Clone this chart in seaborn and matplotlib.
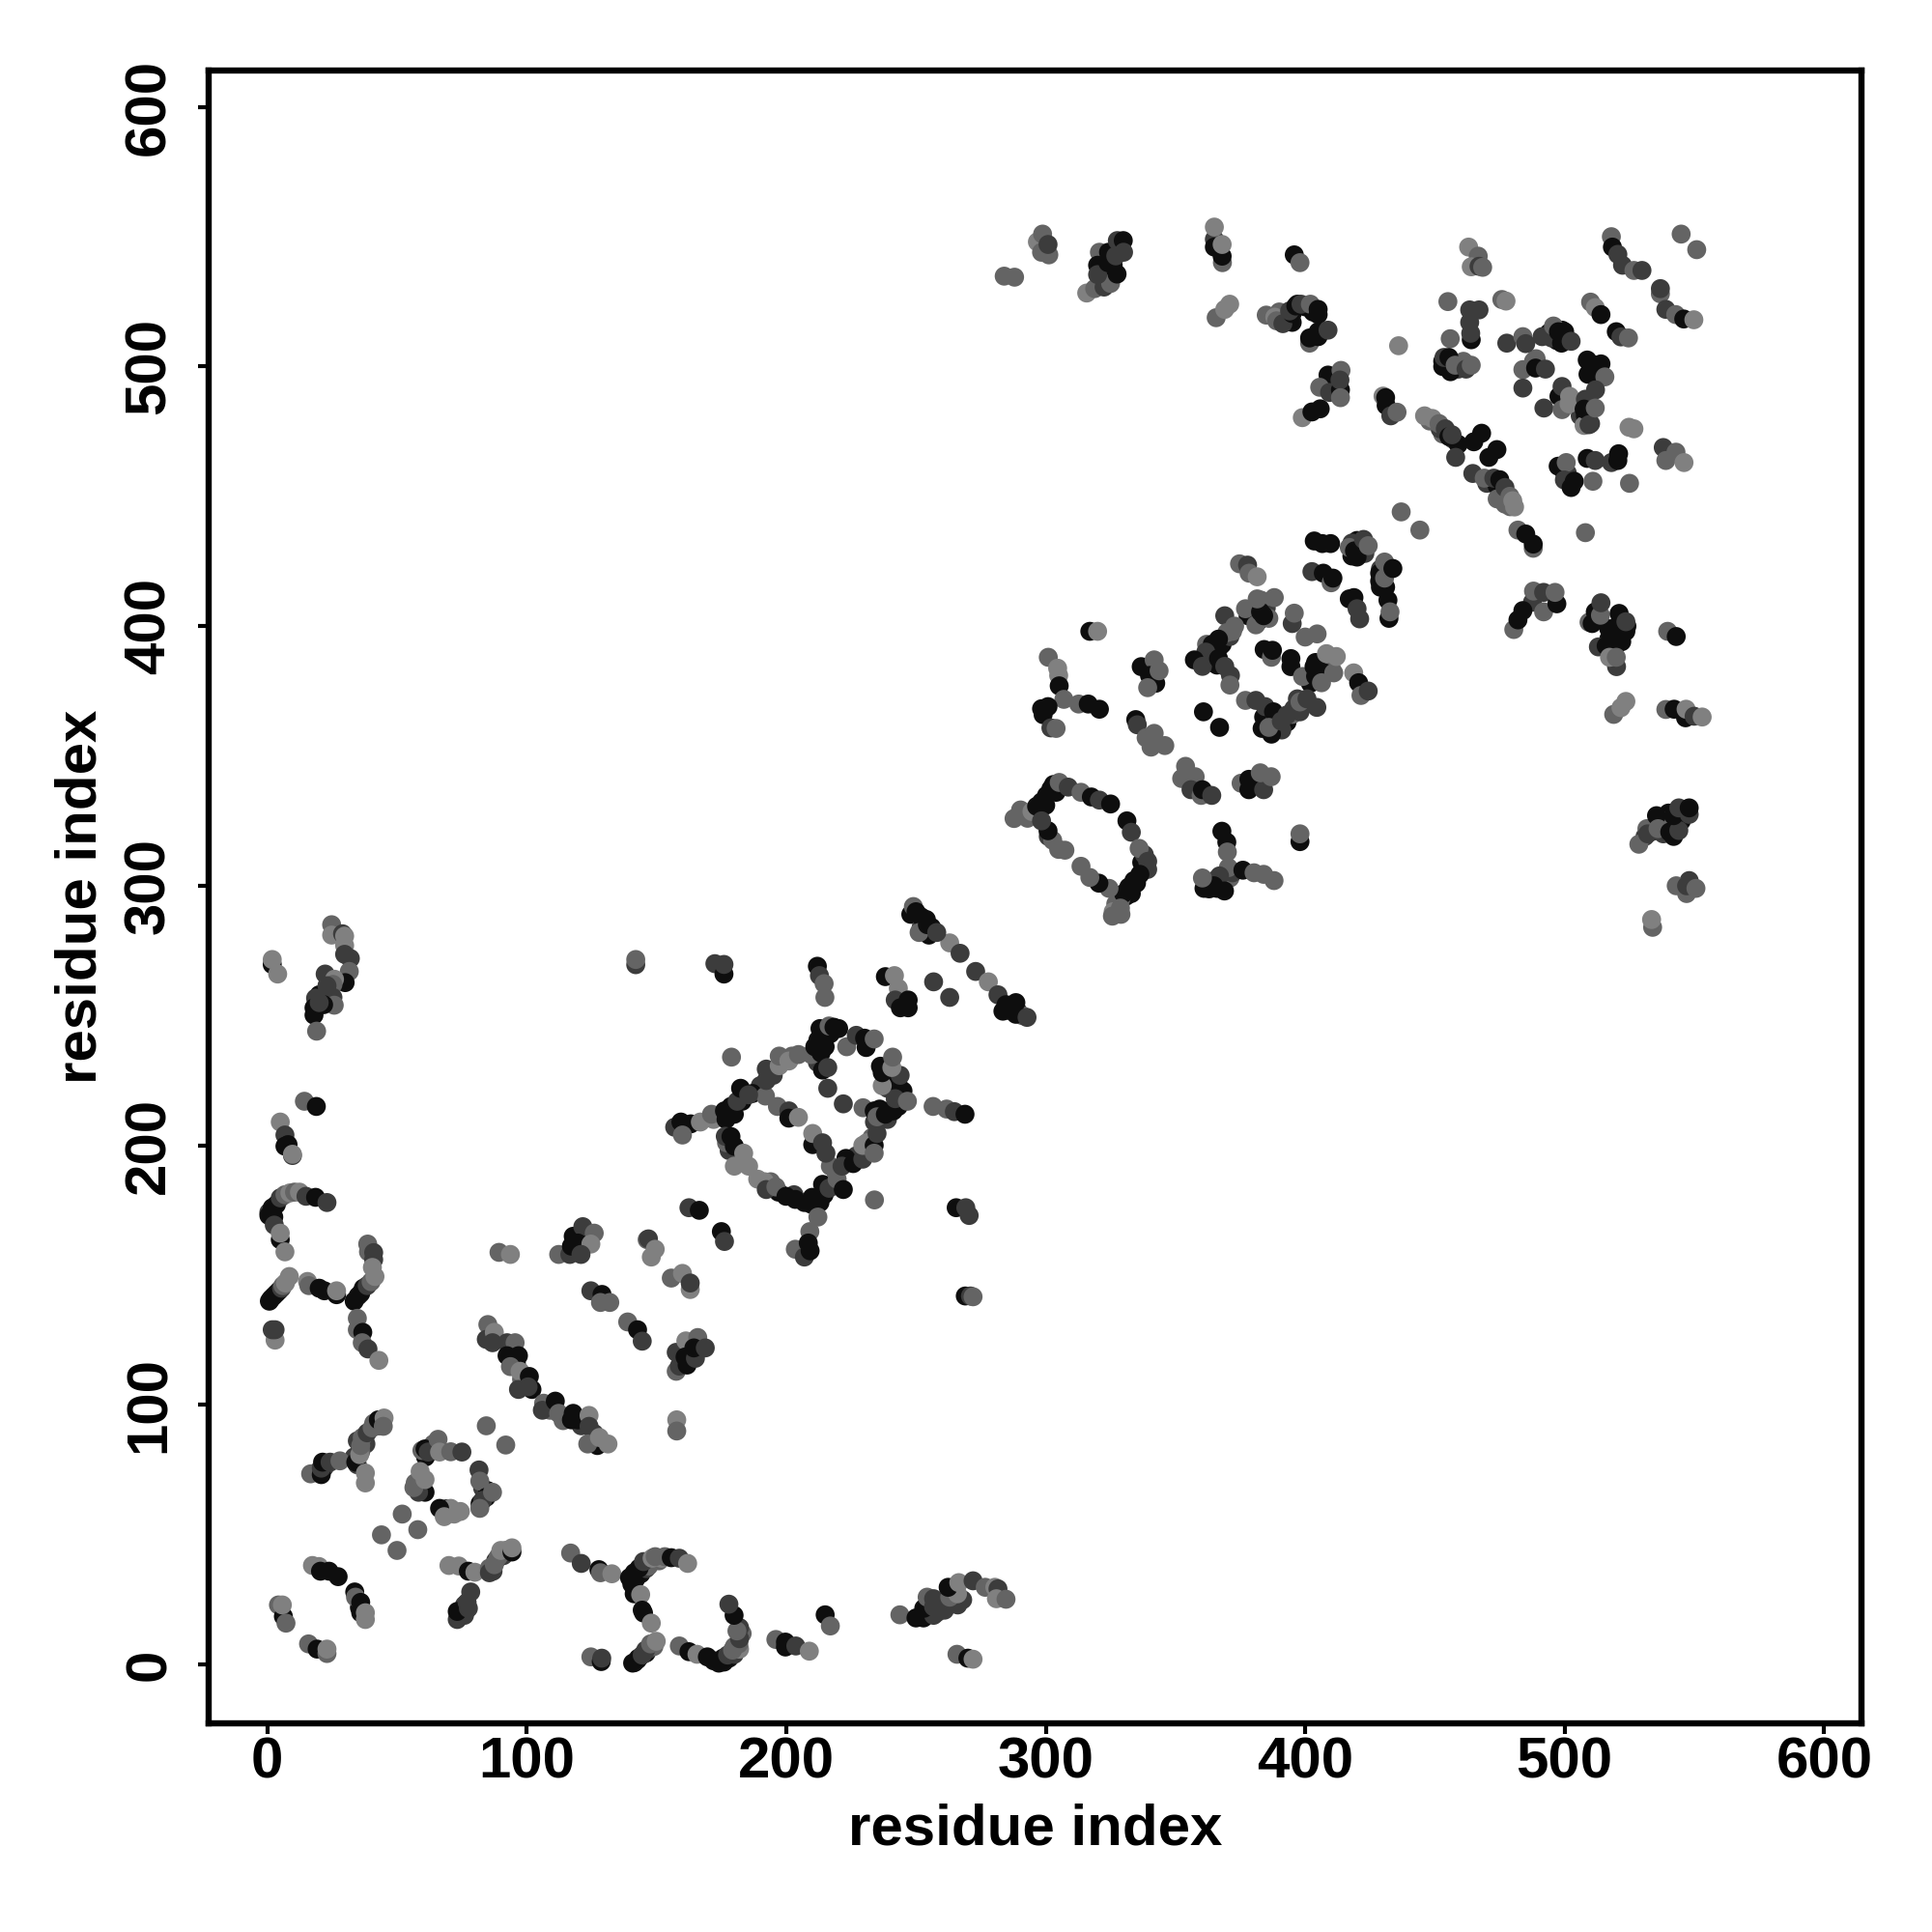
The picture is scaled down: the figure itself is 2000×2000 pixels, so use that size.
import pandas as pd
import matplotlib
matplotlib.use("Agg")
import matplotlib.pyplot as plt
import seaborn as sns

# contact pairs, one line per blob
x_left = [0.8,1.5,2.5,3.5,4.5,5.5,6,7,8.5,
    15.5,16,20,22,26.7,26.7,
    33.5,35,36,37,38.5,40,41.5,
    38.7,39,41,41,40.5,
    34.7,34.7,36.8,36.6,38.8,43,
    3,1.9,3,
    0.6,0.6,1.9,2.5,3.5,2.7,5,6.8,8.7,10.5,12.4,14.9,18.6,23,
    5,5,6.8,
    5,6.8,8,6.8,9.7,9.7,
    14.3,18.9,
    1.9,1.9,4,
    24.8,24.8,29,29.8,29.8,29.8,32,22.3,31.6,30,25.9,25.3,23,18.6,25.3,25.8,21.7,18,18,19,20,
    16.7,20.8,20.8,21.3,24.2,28,34.7,34.1,35.6,34.7,36,36.6,38.5,40.4,42.8,45,44.7,37.8,37.8,
    59.6,60.8,62,65.8,66.4,70.7,75,81.6,81.9,84.4,83,86.8,81.9,74.4,70.7,66.4,68.2,60.8,58.3,56.5,60.8,58.9,
    84.4,91.9,52,58,44,50,
    17.4,19.9,20.5,23.8,27.3,33.7,34,36,37.8,37.8,
    4.3,6.2,5.8,7.2,
    15.9,19.2,23,23,
    70,73.8,77.5,80,85.6,85.6,87.5,89,90,94.3,94.3,
    73.2,73.2,77.5,77,78.4]
y_left = [140,141,142,143,144,145,146,147,149.5,
    147.6,146,145,144,142.5,144,
    140,142,143,145,146,147.5,149.5,
    162,159,158.7,156,153,
    133.4,129,128,124,121.6,117.2,
    125,129,129,
    174.2,173,176,172.4,177.2,169.3,179.8,181,181.7,182,182,180.4,180,178,
    163.7,166.2,159,
    209,204,200.3,199.7,196.1,196.6,
    217,215,
    269.7,271.6,266,
    285,281,281.5,280.6,277,273.6,272,266,267,262.7,264,262,261.5,256.7,257,254,254.2,253,250.2,244,255,
    73.5,73.2,75.7,78,78,78.5,77,78,80.9,86.2,84.4,87.5,89.3,91.2,94.3,95,91.8,70,73.8,
    82.5,83.1,81.9,86.8,81.9,82,81.9,75,70.7,64.5,63.3,66.4,60.2,59,60.2,60.2,57,66.4,66.4,68.2,71.3,74.4,
    92,84.6,58,52,50,44,
    38.2,37.8,36,36,33.9,28,26,24,17.4,20,
    23,18.6,23,16,
    8,6,4.3,6,
    38.2,38,36,35.6,37.2,35.4,38.5,41.5,44,43.4,45,
    17.4,20.5,21.7,24,28]
tone_left = ("kkkkkdmll" "lmkkkl" "kkkkdml" "mmddl" "mmkmdl" "ldd" "dkkkkddmlmldkd" "kll" "ldkkdl" "mk" "kll"
    "mldlldddmklmdddmkkkmd" "mkdkdmdkldmmdmklmll" "mkdmlmddmkdmmllklkdmll" "mmmmmm" "llkkkkmkll"
    "mklm" "mkml" "llklmdmmlkl" "dkddd")

x_bottom = [116.9,121,127.8,128.4,132.8,
    139.6,141.4,143.3,145,148.3,149.5,153.2,155.7,158.8,162,
    141.4,143.9,144.5,145,148,
    140.8,142.7,144.5,145.8,147.7,149.9,
    124.7,128.7,128.9,
    158.8,162.5,165.6,169.6,174,175.6,177.4,179.3,181.7,182,182,181,179.9,177.9,
    196,199.7,199.7,203.7,208.9,
    215,217,
    243.8,250,252.9,256.8,253,254.3,256.8,256.8,262,266.1,263,266,262.4,266.5,272,276.7,280.4,281.6,281,284.7,
    265.8,270,272]
y_bottom = [43,39,36.6,35.4,35,
    33.5,35.4,37.2,39.7,41,41.6,41.6,41.2,41,39,
    27.3,27,21,19.9,16,
    0.6,1.9,3.7,5.6,8,9,
    3,1.2,2.5,
    7.2,5,4,3,0.6,2.5,3.7,5.6,8,10,14.3,13,19,23.3,
    9.7,8.7,6.8,7.2,5.2,
    19.2,14.9,
    19.2,18,18,19,21.7,26,25.4,22.3,23.6,23,26,27.3,29.8,31.6,32.3,29.8,29.8,29.2,25.4,25.2,
    4,2.5,2.1]
tone_bottom = ("mdkml" "kkkdlmmkdl" "klkkl" "kkddml" "mkd" "mklkkkdmmddmkd" "mkkdl" "km"
    "mkkdkmddddmlkldmldlm" "mkl")

x_mid = [85,84.4,87.5,86.8,92.4,95.5,92.4,96.8,93.7,97.4,101,100.5,96.8,
    106.5,106,111,112.3,117.9,117.2,119.7,124,124,127.2,123.5,128,131.3,
    157.8,157.8,
    89.3,93.7,
    112.3,116.6,117.9,117.2,121.6,126,119.7,124.7,120.9,
    124.7,129,128.4,132,
    138.9,142.7,144.5,
    146.4,146.9,149.5,148,155.7,160,163,163,
    157.6,157.6,161.3,165.9,158.8,161.8,161,165,164.4,168.8,
    269,271,272,
    142,142]
y_mid = [131,125.3,128,124,124,124,119,119,114.8,113,111,107,106,
    100.7,98,101.5,96.8,96.8,94.3,94.3,96,91.8,84.4,85,87.5,85,
    94.3,90,
    158.8,158,
    158,158,165,161.2,168.7,166.2,162.4,162,158,
    144,142.6,139.5,139.5,
    132,129,124.6,
    163.7,164,160,157,148.9,150.7,144.5,147,
    113,120.3,124.7,126,115,115.4,118.5,118,122,122,
    142,142,141.7,
    269.6,271.6]
tone_mid = ("mdldd" "mkkmlkdd" "mdkmkkkldkmll" "lm" "ml" "mdkkdmkld" "dkmm" "mkd" "mdllmlld"
    "mdlmdkkdkd" "kdm" "dm")

x_ring = [172.5,176,176,
    212,212.8,214.6,214.9,
    238.2,241.7,243.2,242,244,247,247,
    256.8,263,
    263,267,273,277.9,281.6,283.5,284.7,288.5,288.5,292.8,
    249,250,252,254,256,251.2,254.4,258,
    178.9,
    192,192.3,192.3,197.3,197.3,202.2,201,204.7,
    157,159.4,163.2,160,166.9,171.2,176.2,176.8,178.7,181.1,182.4,185.5,
    176.5,178.7,180,183.6,180,185.5,
    191.7,192.3,196,199.9,203.5,209.7,212.2,214.6,216.5,219.6,222,
    217,221.5,225.8,229.5,229.5,233.9,233.9,235,
    210.2,210.2,214,215.3,
    196.6,201,201,204.7,
    216,222,
    229.6,233.9,235,238.2,241.3,243.2,244.4,242,246.7,
    237,237,236.3,243.9,240.7,241,
    223.3,227,230.8,230.2,233.9,
    209.7,211,212.2,213.4,213.4,216.5,218.4,220.2,216,
    212.2,209.1,203.5,208.5,207,209.2,
    234,
    256.6,261.8,264.8,268.9,
    265.5,269.2,270.5,
    162.5,166.5,175,176.2]
y_ring = [270,266,269.7,
    269,265.4,262.3,257,
    265,265.4,260.5,256,253,253,256,
    263,257,
    278,274,267,263,258,251.7,254.2,255,250.5,249.3,
    292,290,288,287,284,282,285,282,
    234,
    219,225,229.4,230.7,234.4,234.4,232.5,235,
    207,209,208.3,204,209,212,213.3,210,215,217,222,219.5,
    203.5,203.4,199.7,197,192,192,
    186,183,184,180.4,179.2,177.3,179,181,183.5,187,183,
    192,192,193,194.7,200,200,197,204.6,
    200.3,204.6,201,197,
    215,213.3,210.5,210.8,
    222,216,
    214.5,213.3,211,212,213.3,215,220,218,217,
    223,228,230.5,227,230,234,
    238,242.4,237.7,241.3,241,
    235,238,240.6,243,235.6,246,245.5,245,230,
    172.4,166.8,160,162.4,157,159.4,
    179,
    215,214,213,212,
    176,176,173,
    176,175,166.8,163]
tone_ring = ("dkd" "kdmm" "klldkkk" "dd" "lddldkkkkd" "mkkkkmkd" "m" "mddlmmlm" "dkkmlmkkkdkd" "dkklll"
    "ldmkkkkkdmk" "mdkdlkmd" "kldd" "mdkl" "dd" "mkmkkkkdm" "lkkdlm" "mdkkm" "mkkkkmkkd" "mmmkdk" "m"
    "mmdk" "kdd" "dkkd")

x_dring = [287.8,290.3,294.7,296.5,298.4,300.3,302,305.2,308.7,313.6,317.6,320.7,325,
    331.3,333,336,339.3,339.3,336.3,334,332,330,328.8,325.7,324.4,320.5,317,313.6,
    307.4,302.7,300.9,298.4,
    367.9,369.8,370,370.4,367,364.8,363,360.4,368.9,376,380.3,384,388,
    398,398,
    317,320,
    301,304.6,305,305.2,307,300.9,299,298.4,302,304,312.7,316.4,320.7,
    336.8,341.8,340,342.4,343.7,339.3,
    334.7,335.3,338.7,341.8,340.6,345.9,
    353.9,357.6,352.4,356,359.9,360.4,364,
    375.3,378.3,378.3,383,384,382.7,386.9,
    360.8,367,
    369,372.8,369.8,366.6,364.2,361.7,357.3,360.4,366.6,369,371.2,371,
    381,377,382.8,384,381.5,388.1,
    395,395.8,
    384.2,387,387.4,
    400,404.6,
    394.5,394.5,399,
    404,403.4,407.4,406.3,411,408.2,412,
    418.7,420.6,421.5,424.3,
    377,381,384.6,387.8,383.4,387,386,390.8,393,395.6,398,400.7,404.5]
y_dring = [325.9,329.2,328.6,330.6,332.3,334.8,337.3,339.8,338,336,334.2,333,331.5,
    325,320.6,314.4,309.4,306.3,304.4,302,299.5,297,291.4,288.3,299,301,303.2,307.5,
    313.7,317.5,321.2,325,
    321,316.8,313,307,303.8,300,298.8,303,298,306,305,304.4,302,
    317,320,
    398,398,
    388,383.8,381,377,371.8,369,365.9,368.2,360.8,360.6,370,370,368,
    384.4,387,381,378,382.8,376.3,
    364,362,357,358.7,353.4,354,
    346,342,341.3,337,334.8,337,334.8,
    339.5,341,337,340,337,343.5,342,
    367,361,
    404,400,397.5,395,393,390,387,384.5,387.5,384.5,381,377.3,
    400.5,406.7,405.5,404,410.5,411,
    401,405,
    391,388,390.7,
    395.8,397,
    384.4,387.5,380.6,
    380.7,384.4,382,378.2,382,389.4,388.3,
    382,378.2,373.3,375,
    371.4,371.4,369,367,360.6,358.4,361,363.4,365.8,368.2,370.8,372,368.7]
tone_dring = ("mmlkkkkmdmkdk" "kdmddkkkkmmmkmm" "mmkd" "kkmmdkkmkkmmm" "km" "kl" "mllkmkkkdmmkk" "kmkkmm"
    "kdmmmm" "mmmdmkd" "mkkkdmm" "kk" "dmmkkdkdkddm" "mmkkmm" "dm" "kmk" "mm" "kkm" "kkkmmll" "lkmd"
    "mddkkkmdddmdd")

x_upper = [284,288,
    296.8,298.8,298.4,301.2,300.9,
    315.8,318.9,322.5,325,320.7,320,320,324.2,324,327.5,327.6,329.9,330,327,
    368.1,365,365,368,365,368,
    365.7,369,370.9,
    395.8,398,
    385,388.3,389,391.4,395,394,396.4,398.4,402,405,405,
    401.7,401.7,405,405,408.8,
    408.8,405.6,409.4,413.8,413.6,413.4,413.6,
    398.9,402.6,405.8,
    430,431,431.2,433,435.4,
    437,444.2,436,
    374.7,377.8,378.4,381.5,
    403.5,406.6,409.8,417,419,420,422.5,424.3,
    402.6,407,410,410.7,
    417,418.8,421,420,
    428.7,428.7,430.6,430.6,433.8,
    431.9,432.3,432.7]
y_upper = [534.8,534.4,
    548,551,544,543,547,
    528.3,530,530.6,532,544,539,535.4,544,540,535.6,548.5,548.5,544,542.6,
    540,549,546,542.5,553.7,547,
    518.8,522,524,
    543,540,
    519.8,519,517.6,516.5,520.4,521.4,523.3,524,524,522,520,
    509,511,511.5,513.4,514,
    496.7,492,490,498.5,491,494.8,488,
    480.3,482.5,483.7,
    488.6,488,485,481,482.4,
    444,437,508,
    424,423.5,420.4,419,
    432.8,431.8,431.8,430.3,429,426.6,433.4,431,
    421,420.4,416.7,418.5,
    410.5,411,402.8,406.7,
    420.4,417.3,418.5,424.7,422.2,
    410,403,405.5]
tone_upper = ("mm" "lmmmd" "lmdmmkdkkkdkdd" "mdkkll" "mll" "km" "mlmdkdkdmkk" "mkkkd" "kmdmkdm" "lkk" "lkkdm" "mml"
    "mdml" "kkkmkkdm" "dkmk" "kkdd" "kkmmk" "kkm")

x_top = [463,466.7,464,467,468.4,
    455,475.8,477.4,
    463.4,467,463.4,464,463.8,455.9,
    453,453.5,455.4,457.8,462,464,
    477.7,483.9,485,491.3,495.7,497.6,500,498.8,502.5,
    483.9,488,488.8,492.6,
    483.9,492,
    497.8,499,499,501.7,501.9,
    508.7,511.2,512.4,515.5,511.9,508,507.5,507.5,509.4,511.8,
    510,511.8,514,
    519.9,521.7,524.6,
    518,518.4,520.5,522.3,526.7,529.8,
    544.9,550.9,
    536.9,536.9,539,542.8,545.9,549.8,
    524.8,526.7,
    538,539,542.9,546,
    446,449,451.6,454,455.4,456.6,
    468,465,473.9,470.8,
    458,464.6,469,472.7,475,477,478.9,480,480.7,
    497.5,500.6,499.9,502.5,503.7,
    508.7,511.8,510.9,518,520.5,520.8,525,
    508,
    482,485,487.9,487.9,
    487.6,488,491.9,491.9,497,496.3,
    480.4,482,483.9,
    509.4,510.6,511.8,513.8,514,
    520,516,518.6,520.5,517.3,519.9,521,523.6,523.6,
    539.7,543,
    518.9,521.7,523.6,
    539,542.2,546.6,546.8,549.9,553,
    528.6,531.7,532,535.4,536,540.5,544,542,544,548,548,
    543,547,547,550.6,
    533.9,533.5]
y_top = [546,542.5,538.4,538.6,538.2,
    525,525.8,525.2,
    521.8,521.8,517,510.3,512.8,510.7,
    502,503.5,503.5,500.5,499,500.5,
    509,511.5,508.8,511.5,515.6,513.4,513.4,509,509.7,
    498.8,502,499.4,499,
    491.7,484,
    488.5,492.3,483.4,485.6,488.5,
    502.5,500.7,498.8,496,491,487.4,477.3,483.6,477.6,484,
    524.8,522.7,520,
    513.4,511.4,511,
    550,546,543.2,539,537,537,
    551,545,
    528,530,522,520,518.3,518,
    476.6,476,
    468.8,463.8,467,463,
    481,480,478,476,473,473.7,
    474.3,471,468,465,
    465,458.8,457,457,456.4,453.4,450,448.3,445.9,
    461.6,463,456.3,453.4,455.8,
    464.6,463.8,455.8,463,463.8,466.4,455,
    436,
    437,435.5,430,431.6,
    409.2,413.5,413,405.5,408.6,413,
    398.7,402.4,406,
    401.5,401,405.5,404.2,409,
    384.4,392.4,395,397,388,388,404.9,398,401.7,
    398,396,
    366,368.6,371,
    367.9,368,364.7,368,365.3,365,
    316,322,320,327,322,320.7,321.3,327,330,327.5,330,
    300,297,300,299,
    284,287]
tone_top = ("lmldm" "mml" "dddkdm" "kdkmdm" "dmddmkkkd" "mmkd" "dd" "kdmll" "kkkmddlkdm" "mlk" "kdm" "mkddmd" "mm"
    "mddmkl" "ll" "dmml" "llmdkd" "kkkk" "ddmdkdmll" "kmdkk" "kdmdkkm" "m" "mkmk" "dmdmkm" "mkk" "mkkmd"
    "dkkklmkkd" "mk" "mll" "mkkldl" "mmdkmkdkddk" "mmdm" "ml")

# points between the blobs above, mostly hidden under them
x_fill = [22,19,38,41,43,36,33.5,
    61,57,59,83,85,82,72,69,64,
    35.5,36,
    87,88,91,92,
    75,76,76,
    140.5,142,144,146,147,151,152,
    141.5,143,146,147,149,
    172,176,178,180,181,180,182,183,
    258,259,261,268,
    94,96,98,102,109,114,121,126,
    195,190,187,183,180,178,172,
    215,214,213,215,217,211,212,214,
    240,239,243,245,241,239,236,234,
    233,231,227,223,219,214,210,207,203,197,194,189,182,178,177,213,
    255,248,252,286,289,291,
    303,300,296,293,304,338,335,333,331,329,327,326,329,337,338,301,305,
    361,366,367,371,372,365,
    365,367,368,371,372,362,364,366,382,381,378,385,386,383,
    393,391,395,398,397,384,388,
    402,405,408,410,404,
    322,323,325,326,321,323,
    393,392,395,390,397,400,403,
    418,421,420,418,423,
    429,431,429,431,
    453,459,456,461,489,
    494,497,500,499,495,
    510,513,509,514,506,508,510,509,
    457,459,453,452,448,
    470,474,476,477,474,479,
    500,499,501,
    517,519,522,520,524,521,517,513,
    540,545,538,543,534,531,538,542,
    548,20,23,24,119,118]
y_fill = [76,74,85,93,92,82,80,
    80,70,68,68,67,62,58,60,85,
    22,20,
    36,40,42,44,
    19,23,19,
    31,33,35,37,38,40,41,
    0.8,2.5,4.5,6,7,
    1.5,1,2.5,4,6,7,6,12,
    20,24,21,25,
    122,116,110,106,98,94,92,89,
    227,223,220,217,212,214,210,
    238,240,245,243,243,235,232,229,
    225,222,224,221,214,210,214,209,
    203,201,196,195,190,185,180,178,181,182,186,187,194,198,201,178,
    281,289,284,252,252,250,
    339,331,327,326,336,307,301,297,296,295,293,290,289,309,312,319,314,
    299,299,301,303,305,302,
    390,392,393,396,398,393,386,385,402,403,404,407,403,410,
    363,360,366,367,372,365,363,
    378,385,386,384,386,
    537,534,537,539,531,543,
    518,520,517,521,524,523,521,
    427,431,433,432,428,
    422,421,415,415,
    500,499,498,502,503,
    513,510,511,514,511,
    499,497,497,501,481,481,478,484,
    472,470,474,476,479,
    455,454,450,447,449,446,
    459,461,459,
    399,396,394,393,400,401,395,392,
    328,325,320,324,321,319,325,319,
    302,258,255,259,165,159]
tone_fill = ("dkdmdmd" "kmkdkklkm" "kk" "dddm" "kdd" "kkkdmml" "kkkdm" "kkkdmmlm"
    "dkdd" "kkmkmmdd" "ddkkkkl" "kkkkkkdk" "kdkkkdkd" "mldkmkkkdkmlldmk" "kkdkkm"
    "kkkmkkkkkmmlmkddm" "kkkmdd" "kkkdmmdkkkkdmm" "kdmddkd" "kdlmk" "kdkkdk" "kdkmkkk"
    "kkkdd" "dkkk" "kdkmm" "kkkkd" "kkkkdkdk" "dkmdm" "dkdmmm" "kkd" "kkkkkkkd" "kkdkddmk" "dkkdkk")

tick_vals = [0, 100, 200, 300, 400, 500, 600]
grey_for_tone = {"l": "#808080", "m": "#646464", "d": "#3c3c3c", "k": "#0e0e0e"}

xs = x_fill + x_left + x_bottom + x_mid + x_ring + x_dring + x_upper + x_top
ys = y_fill + y_left + y_bottom + y_mid + y_ring + y_dring + y_upper + y_top
tones = tone_fill + tone_left + tone_bottom + tone_mid + tone_ring + tone_dring + tone_upper + tone_top
df = pd.DataFrame({"x": xs, "y": ys, "tone": list(tones)})

sns.set_style("white")
plt.rcParams["font.family"] = ["Liberation Sans", "DejaVu Sans"]
plt.rcParams["text.color"] = "black"
plt.rcParams["axes.labelcolor"] = "black"
plt.rcParams["xtick.labelcolor"] = "black"
plt.rcParams["ytick.labelcolor"] = "black"

fig = plt.figure(figsize=(10, 10), dpi=200)
ax = fig.add_axes([0.108, 0.108, 0.8555, 0.8555])
sns.scatterplot(data=df, x="x", y="y", hue="tone", palette=grey_for_tone, s=50, linewidth=0, legend=False, ax=ax)

ax.set_xlim(-22.6, 614.4)
ax.set_ylim(-22.6, 614)
ax.set_xticks(tick_vals)
ax.set_yticks(tick_vals)
ax.set_xticklabels([str(v) for v in tick_vals], fontsize=21.6, fontweight="bold")
ax.set_yticklabels([str(v) for v in tick_vals], fontsize=21.6, fontweight="bold", rotation=90, va="center")
ax.tick_params(axis="both", direction="out", length=4, width=1.5, color="black", left=True, bottom=True)
ax.tick_params(axis="x", pad=1)
ax.tick_params(axis="y", pad=8)
ax.set_xlabel("residue index", fontsize=21.6, fontweight="bold", labelpad=5)
ax.set_ylabel("residue index", fontsize=21.6, fontweight="bold", labelpad=6)
for spine in ax.spines.values():
    spine.set_linewidth(2.3)
    spine.set_color("black")

fig.savefig("out.png", dpi=200)
